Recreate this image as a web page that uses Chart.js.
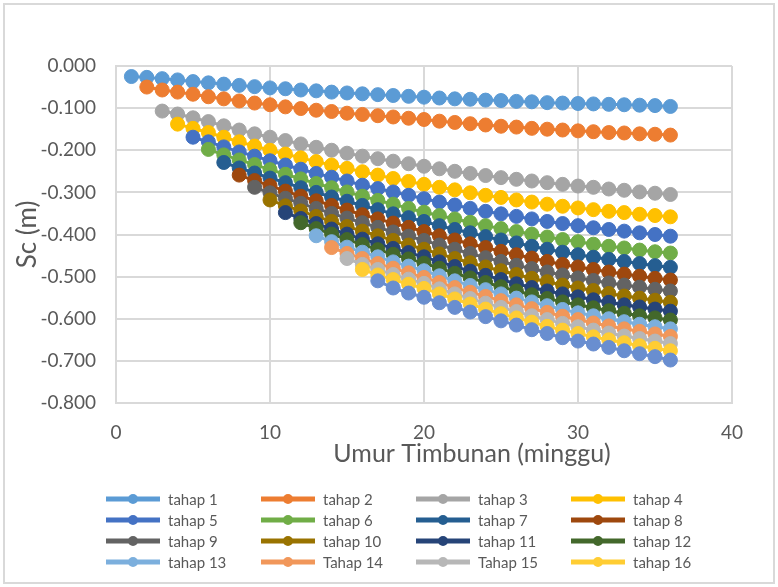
<!DOCTYPE html>
<html>
<head>
<meta charset="utf-8">
<script src="https://cdn.jsdelivr.net/npm/chart.js@4.4.1/dist/chart.umd.min.js"></script>
<style>
  html, body { margin: 0; padding: 0; background: #ffffff; }
  #wrap { width: 778px; height: 587px; }
</style>
</head>
<body>
<div id="wrap"><canvas id="chart" width="778" height="587"></canvas></div>
<script>
// Weeks since the embankment stage started (x axis, "minggu")
const weeks = [1, 2, 3, 4, 5, 6, 7, 8, 9, 10, 11, 12, 13, 14, 15, 16, 17, 18,
               19, 20, 21, 22, 23, 24, 25, 26, 27, 28, 29, 30, 31, 32, 33, 34, 35, 36];

const seriesNames = ['tahap 1', 'tahap 2', 'tahap 3', 'tahap 4', 'tahap 5', 'tahap 6',
                     'tahap 7', 'tahap 8', 'tahap 9', 'tahap 10', 'tahap 11', 'tahap 12',
                     'tahap 13', 'Tahap 14', 'Tahap 15', 'tahap 16', 'tahap 17'];

// First week of each stage
const startWeeks = [1, 2, 3, 4, 5, 6, 7, 8, 9, 10, 11, 12, 13, 14, 15, 16, 17];

const seriesColors = ['#5B9BD5', '#ED7D31', '#A5A5A5', '#FFC000', '#4472C4', '#70AD47',
                      '#255E91', '#9E480E', '#636363', '#997300', '#264478', '#43682B',
                      '#7CAFDD', '#F1975A', '#B7B7B7', '#FFCD33', '#698ED0'];

// Consolidation settlement Sc (m), one value per week from the stage's first week to week 36
const tahap1 = [-0.025, -0.027, -0.030, -0.033, -0.037, -0.040, -0.043, -0.046, -0.049, -0.052,
                -0.054, -0.057, -0.059, -0.062, -0.064, -0.066, -0.068, -0.070, -0.072, -0.074,
                -0.076, -0.078, -0.079, -0.081, -0.082, -0.084, -0.085, -0.087, -0.088, -0.089,
                -0.090, -0.091, -0.092, -0.093, -0.094, -0.096];
const tahap2 = [-0.050, -0.057, -0.062, -0.067, -0.073, -0.078, -0.083, -0.088, -0.092, -0.097,
                -0.101, -0.105, -0.108, -0.112, -0.115, -0.118, -0.121, -0.124, -0.127, -0.131,
                -0.134, -0.137, -0.140, -0.143, -0.145, -0.148, -0.150, -0.152, -0.154, -0.156,
                -0.158, -0.159, -0.161, -0.162, -0.164];
const tahap3 = [-0.107, -0.114, -0.123, -0.132, -0.142, -0.152, -0.161, -0.169, -0.177, -0.185,
                -0.193, -0.200, -0.207, -0.214, -0.220, -0.226, -0.232, -0.238, -0.244, -0.250,
                -0.255, -0.260, -0.265, -0.269, -0.273, -0.277, -0.281, -0.285, -0.288, -0.292,
                -0.295, -0.299, -0.302, -0.305];
const tahap4 = [-0.138, -0.148, -0.158, -0.169, -0.180, -0.190, -0.200, -0.209, -0.218, -0.227,
                -0.235, -0.243, -0.251, -0.259, -0.267, -0.274, -0.281, -0.288, -0.294, -0.301,
                -0.307, -0.312, -0.318, -0.323, -0.328, -0.333, -0.337, -0.341, -0.345, -0.348,
                -0.352, -0.355, -0.358];
const tahap5 = [-0.169, -0.180, -0.192, -0.204, -0.214, -0.225, -0.235, -0.245, -0.255, -0.264,
                -0.273, -0.283, -0.291, -0.299, -0.307, -0.315, -0.323, -0.330, -0.338, -0.345,
                -0.351, -0.357, -0.363, -0.369, -0.374, -0.379, -0.384, -0.388, -0.392, -0.396,
                -0.400, -0.404];
const tahap6 = [-0.198, -0.211, -0.223, -0.234, -0.246, -0.257, -0.268, -0.279, -0.289, -0.299,
                -0.309, -0.319, -0.328, -0.338, -0.347, -0.355, -0.363, -0.371, -0.379, -0.386,
                -0.393, -0.399, -0.406, -0.412, -0.417, -0.423, -0.428, -0.432, -0.437, -0.441,
                -0.444];
const tahap7 = [-0.229, -0.242, -0.254, -0.266, -0.277, -0.289, -0.300, -0.311, -0.321, -0.331,
                -0.341, -0.351, -0.360, -0.369, -0.379, -0.388, -0.396, -0.405, -0.413, -0.420,
                -0.428, -0.435, -0.442, -0.448, -0.454, -0.459, -0.464, -0.469, -0.474, -0.478];
const tahap8 = [-0.259, -0.272, -0.284, -0.297, -0.309, -0.320, -0.331, -0.342, -0.353, -0.363,
                -0.373, -0.383, -0.393, -0.403, -0.413, -0.422, -0.431, -0.440, -0.448, -0.456,
                -0.464, -0.471, -0.477, -0.483, -0.489, -0.494, -0.499, -0.504, -0.508];
const tahap9 = [-0.288, -0.301, -0.314, -0.326, -0.338, -0.350, -0.361, -0.372, -0.383, -0.394,
                -0.404, -0.414, -0.425, -0.435, -0.445, -0.455, -0.464, -0.473, -0.481, -0.489,
                -0.496, -0.503, -0.509, -0.515, -0.520, -0.525, -0.530, -0.534];
const tahap10 = [-0.318, -0.332, -0.344, -0.357, -0.369, -0.381, -0.392, -0.403, -0.414, -0.425,
                 -0.435, -0.446, -0.457, -0.467, -0.477, -0.486, -0.495, -0.504, -0.512, -0.520,
                 -0.527, -0.533, -0.540, -0.546, -0.551, -0.556, -0.561];
const tahap11 = [-0.348, -0.362, -0.374, -0.387, -0.399, -0.411, -0.422, -0.433, -0.443, -0.453,
                 -0.465, -0.476, -0.487, -0.497, -0.507, -0.517, -0.526, -0.534, -0.541, -0.548,
                 -0.555, -0.561, -0.567, -0.572, -0.577, -0.582];
const tahap12 = [-0.372, -0.386, -0.399, -0.412, -0.424, -0.436, -0.447, -0.458, -0.468, -0.480,
                 -0.492, -0.503, -0.514, -0.524, -0.534, -0.543, -0.552, -0.560, -0.567, -0.574,
                 -0.581, -0.587, -0.593, -0.598, -0.603];
const tahap13 = [-0.403, -0.417, -0.430, -0.442, -0.453, -0.465, -0.475, -0.486, -0.498, -0.510,
                 -0.521, -0.531, -0.541, -0.551, -0.560, -0.569, -0.578, -0.586, -0.593, -0.600,
                 -0.607, -0.613, -0.619, -0.624];
const tahap14 = [-0.431, -0.445, -0.457, -0.469, -0.480, -0.491, -0.502, -0.514, -0.526, -0.537,
                 -0.547, -0.557, -0.567, -0.576, -0.585, -0.594, -0.602, -0.610, -0.617, -0.624,
                 -0.630, -0.636, -0.642];
const tahap15 = [-0.457, -0.471, -0.483, -0.495, -0.506, -0.516, -0.529, -0.541, -0.552, -0.563,
                 -0.573, -0.583, -0.593, -0.602, -0.611, -0.619, -0.627, -0.634, -0.641, -0.647,
                 -0.653, -0.659];
const tahap16 = [-0.483, -0.496, -0.507, -0.518, -0.528, -0.541, -0.553, -0.565, -0.577, -0.588,
                 -0.598, -0.608, -0.618, -0.627, -0.635, -0.643, -0.650, -0.657, -0.664, -0.670,
                 -0.676];
const tahap17 = [-0.510, -0.527, -0.539, -0.549, -0.562, -0.573, -0.584, -0.595, -0.605, -0.615,
                 -0.626, -0.635, -0.645, -0.653, -0.660, -0.668, -0.676, -0.683, -0.690, -0.698];

const seriesValues = [tahap1, tahap2, tahap3, tahap4, tahap5, tahap6, tahap7, tahap8, tahap9,
                      tahap10, tahap11, tahap12, tahap13, tahap14, tahap15, tahap16, tahap17];

// Axis ticks
const xTicks = [0, 10, 20, 30, 40];
const yTicks = [0, -0.1, -0.2, -0.3, -0.4, -0.5, -0.6, -0.7, -0.8];

const xTitle = 'Umur Timbunan (minggu)';
const yTitle = 'Sc (m)';

// Only the first sixteen stages appear in the key
const keyEntries = 16;

const FONT = 'Lato, "Open Sans", sans-serif';
const TEXT = '#595959';
const GRID = '#d9d9d9';

const datasets = seriesValues.map((vals, i) => {
  const first = weeks.indexOf(startWeeks[i]);
  return {
    label: seriesNames[i],
    data: vals.map((v, j) => ({ x: weeks[first + j], y: v })),
    borderColor: seriesColors[i],
    backgroundColor: seriesColors[i],
    pointBackgroundColor: seriesColors[i],
    pointBorderColor: seriesColors[i],
    pointRadius: 7,
    pointBorderWidth: 1,
    pointHoverRadius: 7,
    borderWidth: 3,
    showLine: true,
    tension: 0,
    // later stages are painted over earlier ones
    order: seriesValues.length - i
  };
});

// Outer frame, the x-axis title (set right of centre) and the four-column key
const frameAndKey = {
  id: 'frameAndKey',
  beforeDraw(chart) {
    const ctx = chart.ctx;
    ctx.save();
    ctx.fillStyle = '#ffffff';
    ctx.fillRect(0, 0, chart.width, chart.height);
    ctx.strokeStyle = GRID;
    ctx.lineWidth = 2;
    ctx.strokeRect(4, 4, chart.width - 8, chart.height - 8);
    ctx.restore();
  },
  afterDraw(chart) {
    const ctx = chart.ctx;
    ctx.save();

    ctx.font = '25px ' + FONT;
    ctx.fillStyle = TEXT;
    ctx.textAlign = 'center';
    ctx.textBaseline = 'middle';
    ctx.fillText(xTitle, 472, 454);

    const cols = [106, 261, 416, 571];
    const rows = [499, 520, 541, 562];
    const lineLen = 54;
    ctx.font = '15px ' + FONT;
    ctx.textAlign = 'left';
    chart.data.datasets.forEach((ds, i) => {
      if (i >= keyEntries) return;
      const x = cols[i % 4];
      const y = rows[Math.floor(i / 4)];
      ctx.strokeStyle = ds.borderColor;
      ctx.lineWidth = 5;
      ctx.lineCap = 'butt';
      ctx.beginPath();
      ctx.moveTo(x, y);
      ctx.lineTo(x + lineLen, y);
      ctx.stroke();
      ctx.fillStyle = ds.borderColor;
      ctx.beginPath();
      ctx.arc(x + lineLen / 2, y, 5, 0, Math.PI * 2);
      ctx.fill();
      ctx.fillStyle = TEXT;
      ctx.fillText(ds.label, x + lineLen + 8, y + 1);
    });
    ctx.restore();
  }
};

new Chart(document.getElementById('chart'), {
  type: 'scatter',
  data: { datasets },
  options: {
    responsive: false,
    animation: false,
    devicePixelRatio: 1,
    layout: { padding: { left: 4, right: 46, top: 66, bottom: 114 } },
    plugins: {
      legend: { display: false },
      tooltip: { enabled: false }
    },
    scales: {
      x: {
        type: 'linear',
        min: xTicks[0],
        max: xTicks[xTicks.length - 1],
        afterBuildTicks(scale) { scale.ticks = xTicks.map(v => ({ value: v })); },
        afterFit(scale) { scale.height = 70; },
        ticks: { color: TEXT, font: { family: FONT, size: 19 }, padding: 18 },
        grid: { color: GRID, lineWidth: 2, drawTicks: false },
        border: { color: GRID, width: 2 },
        title: { display: false }
      },
      y: {
        type: 'linear',
        min: yTicks[yTicks.length - 1],
        max: yTicks[0],
        afterBuildTicks(scale) { scale.ticks = yTicks.map(v => ({ value: v })); },
        afterFit(scale) { scale.width = 112; },
        ticks: {
          color: TEXT,
          font: { family: FONT, size: 19 },
          padding: 20,
          callback: v => (Math.abs(v) < 1e-9 ? 0 : v).toFixed(3)
        },
        grid: { color: GRID, lineWidth: 2, drawTicks: false },
        border: { color: GRID, width: 2 },
        title: {
          display: true,
          text: yTitle,
          color: TEXT,
          font: { family: FONT, size: 26 },
          padding: { top: 8, bottom: 0 }
        }
      }
    }
  },
  plugins: [frameAndKey]
});
</script>
</body>
</html>
